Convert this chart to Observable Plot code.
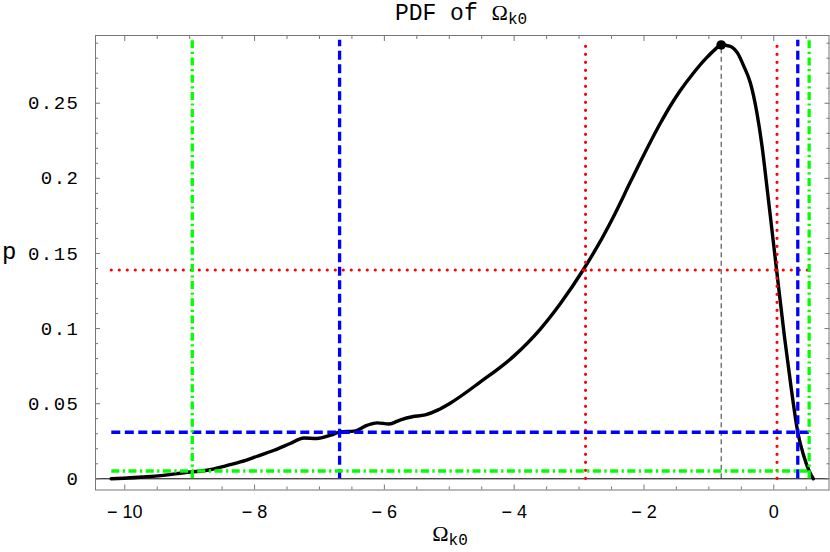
<!DOCTYPE html>
<html>
<head>
<meta charset="utf-8">
<script src="https://cdn.jsdelivr.net/npm/d3@7"></script>
<script src="https://cdn.jsdelivr.net/npm/@observablehq/plot@0.6"></script>
<style>
  html, body { margin: 0; padding: 0; background: #fff; }
  #chart svg { display: block; }
  g[aria-label="y-axis tick label"] text { letter-spacing: 1.5px; }
</style>
</head>
<body>
<div id="chart"></div>
<script>
// ---- data ----
const omega = [-10.21, -9.60, -8.99, -8.73, -8.47, -8.22, -7.96, -7.70, -7.45, -7.24,
  -7.04, -6.83, -6.68, -6.47, -6.26, -6.11, -5.93, -5.75, -5.57, -5.37,
  -5.18, -4.98, -4.52, -4.01, -3.60, -3.29, -2.93, -2.72, -2.47, -2.21,
  -2.05, -1.75, -1.59, -1.44, -1.24, -1.03, -0.92, -0.81, -0.67, -0.56,
  -0.46, -0.36, -0.26, -0.18, -0.10, 0.04, 0.165, 0.27, 0.37,
  0.46, 0.545, 0.61];
const pdf = [0, 0.0015, 0.0045, 0.0057, 0.0083, 0.0112, 0.015, 0.019, 0.0235, 0.0272,
  0.0268, 0.029, 0.0312, 0.0317, 0.0357, 0.0372, 0.0365, 0.0393, 0.0413, 0.0425,
  0.0457, 0.0505, 0.0645, 0.0815, 0.0995, 0.1165, 0.1395, 0.1545, 0.1745, 0.1975,
  0.2115, 0.2365, 0.2485, 0.2585, 0.2700, 0.2805, 0.2852, 0.2888, 0.2879, 0.2835,
  0.2745, 0.2635, 0.2437, 0.2212, 0.1923, 0.1403, 0.0945, 0.0600, 0.031,
  0.0155, 0.0052, 0];

const modeOmega = -0.81;
const modePdf = 0.2888;

// confidence levels: horizontal level and the two crossing points
const levelNames = ["red", "blue", "green"];
const levelPdf = [0.139, 0.031, 0.0052];
const levelLower = [-2.90, -6.69, -8.96];
const levelUpper = [0.05, 0.37, 0.545];

const xMajorTicks = [-10, -8, -6, -4, -2, 0];
const xMinorTicks = [-9.5, -9, -8.5, -7.5, -7, -6.5, -5.5, -5, -4.5, -3.5, -3, -2.5, -1.5, -1, -0.5, 0.5];
const yMajorTicks = [0, 0.05, 0.1, 0.15, 0.2, 0.25];
const yTickLabels = ["0", "0.05", "0.1", "0.15", "0.2", "0.25"];
const yMinorTicks = [0.01, 0.02, 0.03, 0.04, 0.06, 0.07, 0.08, 0.09, 0.11, 0.12, 0.13, 0.14,
  0.16, 0.17, 0.18, 0.19, 0.21, 0.22, 0.23, 0.24, 0.26, 0.27, 0.28, 0.29];

// ---- styles ----
const levelStyles = {
  red:   {stroke: "#ff0000", strokeWidth: 3.2, strokeDasharray: "0 8", strokeLinecap: "round"},
  blue:  {stroke: "#0000ff", strokeWidth: 3.3, strokeDasharray: "9 4.5"},
  green: {stroke: "#00ff00", strokeWidth: 3.3, strokeDasharray: "8 3.5 2.2 3.5"}
};
const frameGray = "#777";
const hStart = -10.2, hEnd = 0.57, vTop = 0.292;

const curve = omega.map((x, i) => ({x, p: pdf[i]}));

const marks = [
  Plot.ruleY([0], {stroke: "#000", strokeWidth: 1}),
  Plot.ruleX([modeOmega], {y1: 0, y2: modePdf, stroke: "#333", strokeWidth: 1, strokeDasharray: "5 3.5"}),
  Plot.line(curve, {x: "x", y: "p", stroke: "#000", strokeWidth: 3.4, curve: "monotone-x", strokeLinejoin: "round"})
];
levelNames.forEach((name, i) => {
  const s = levelStyles[name];
  marks.push(Plot.ruleY([levelPdf[i]], {x1: hStart, x2: hEnd, ...s}));
  marks.push(Plot.ruleX([levelLower[i], levelUpper[i]], {y1: 0, y2: vTop, ...s}));
});
marks.push(Plot.dot([{x: modeOmega, p: modePdf}], {x: "x", y: "p", r: 4.8, fill: "#000"}));
marks.push(Plot.frame({stroke: frameGray}));

const xFmt = d => d < 0 ? "\u2212 " + (-d) : String(d);
const yFmt = d => yTickLabels[yMajorTicks.indexOf(d)];
const blank = () => "";
marks.push(
  Plot.axisX({anchor: "bottom", ticks: xMajorTicks, tickSize: -5, tickPadding: 20.5, tickFormat: xFmt,
    stroke: frameGray, fill: "#000", fontFamily: "Liberation Sans", fontSize: 18, label: null}),
  Plot.axisX({anchor: "bottom", ticks: xMinorTicks, tickSize: -3, tickFormat: blank, stroke: frameGray, label: null}),
  Plot.axisX({anchor: "top", ticks: xMajorTicks, tickSize: -5, tickFormat: blank, stroke: frameGray, label: null}),
  Plot.axisX({anchor: "top", ticks: xMinorTicks, tickSize: -3, tickFormat: blank, stroke: frameGray, label: null}),
  Plot.axisY({anchor: "left", ticks: yMajorTicks, tickSize: -5, tickPadding: 21, tickFormat: yFmt,
    stroke: frameGray, fill: "#000", fontFamily: "Liberation Mono", fontSize: 19, label: null}),
  Plot.axisY({anchor: "left", ticks: yMinorTicks, tickSize: -3, tickFormat: blank, stroke: frameGray, label: null}),
  Plot.axisY({anchor: "right", ticks: yMajorTicks, tickSize: -5, tickFormat: blank, stroke: frameGray, label: null}),
  Plot.axisY({anchor: "right", ticks: yMinorTicks, tickSize: -3, tickFormat: blank, stroke: frameGray, label: null})
);

const plot = Plot.plot({
  width: 830,
  height: 552,
  marginLeft: 95,
  marginRight: 1.5,
  marginTop: 35,
  marginBottom: 62.5,
  x: {domain: [-10.451, 0.851], label: null},
  y: {domain: [-0.00746, 0.2951], label: null},
  style: {background: "#fff", color: "#000"},
  marks
});

// text labels (title, axis labels) with sub-scripts
const svg = d3.select(plot);
function addLabel(x, y, anchor, parts) {
  const t = svg.append("text").attr("x", x).attr("y", y).attr("text-anchor", anchor)
    .attr("fill", "#000").style("white-space", "pre");
  parts.forEach(p => {
    const s = t.append("tspan").text(p.text).attr("font-family", p.font).attr("font-size", p.size);
    if (p.dy) s.attr("dy", p.dy);
  });
}
addLabel(461, 20, "middle", [
  {text: "PDF of ", font: "Liberation Mono", size: 23},
  {text: "\u03A9", font: "Liberation Serif", size: 22},
  {text: "k0", font: "Liberation Mono", size: 16, dy: 4}
]);
addLabel(2, 259, "start", [{text: "p", font: "Liberation Mono", size: 24}]);
addLabel(450, 541, "middle", [
  {text: "\u03A9", font: "Liberation Serif", size: 22},
  {text: "k0", font: "Liberation Mono", size: 16, dy: 4}
]);

document.getElementById("chart").appendChild(plot);
</script>
</body>
</html>
